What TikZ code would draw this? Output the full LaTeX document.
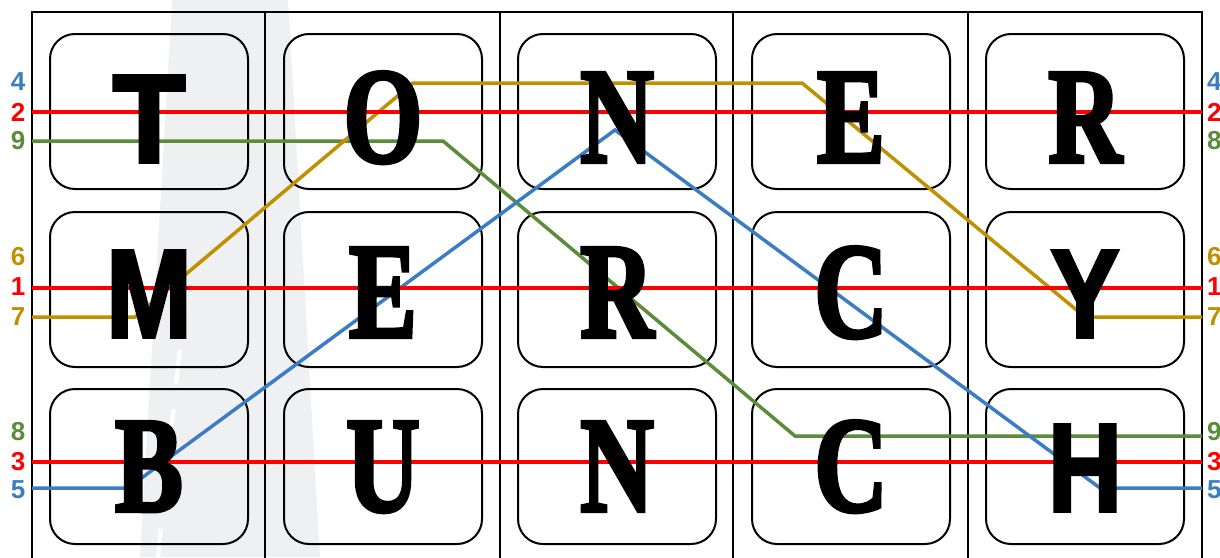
\documentclass[tikz,border=0pt]{standalone}
\usepackage{fontspec}
\newfontfamily\serifL{Liberation Serif}[FakeBold=3]
\newfontfamily\sansL{Liberation Sans}[FakeBold=3]
\newfontfamily\labfont{Liberation Sans}
\definecolor{cred}{HTML}{FF0000}
\definecolor{cblue}{HTML}{3B7DC4}
\definecolor{cgreen}{HTML}{5B8C3A}
\definecolor{cgold}{HTML}{C09000}
\definecolor{road}{HTML}{EFF0F2}
\tikzset{
  frameline/.style={line width=2pt, black},
  tile/.style={draw=black, line width=2pt, rounded corners=25pt, minimum width=198pt, minimum height=155pt, inner sep=0pt},
  route/.style={line width=3.5pt, line join=miter},
  sletter/.style={anchor=base, inner sep=0pt, text=black, font=\serifL\bfseries\fontsize{136}{136}\selectfont},
  gletter/.style={anchor=base, inner sep=0pt, text=black, font=\sansL\bfseries\fontsize{125}{125}\selectfont},
  lab/.style={inner sep=0pt, font=\labfont\bfseries\fontsize{26}{26}\selectfont},
}
\begin{document}
\begin{tikzpicture}[x=1pt,y=-1pt]
\useasboundingbox (0,0) rectangle (1220,557);
% faint road in the background
\fill[road] (172,0) -- (288,0) -- (320,557) -- (140,557) -- cycle;
\draw[white, line width=4pt, dash pattern=on 35pt off 25pt] (186,290) -- (158,557);
% frame
\draw[frameline] (32,560) -- (32,12) -- (1202,12) -- (1202,560);
\foreach \x in {265,500,733,968} \draw[frameline] (\x,12) -- (\x,560);
% tiles
\foreach \c/\x in {1/149,2/383,3/617,4/851,5/1085}
  \foreach \r/\y in {1/111.5,2/289.5,3/466.5}
    \node[tile] (b\r\c) at (\x,\y) {};
% route end points and corners
\coordinate (gL) at (32,141);  \coordinate (g1) at (443,141); \coordinate (g2) at (795,436); \coordinate (gR) at (1202,436);
\coordinate (oL) at (32,317);  \coordinate (o1) at (135,317); \coordinate (o2) at (413,83);  \coordinate (o3) at (802,83); \coordinate (o4) at (1085,317); \coordinate (oR) at (1202,317);
\coordinate (uL) at (32,488);  \coordinate (u1) at (128,488); \coordinate (u2) at (615,130); \coordinate (u3) at (1100,488); \coordinate (uR) at (1202,488);
\coordinate (r1L) at (32,112); \coordinate (r1R) at (1202,112);
\coordinate (r2L) at (32,288); \coordinate (r2R) at (1202,288);
\coordinate (r3L) at (32,462); \coordinate (r3R) at (1202,462);
% routes
\draw[route, cgreen] (gL) -- (g1) -- (g2) -- (gR);
\draw[route, cgold] (oL) -- (o1) -- (o2) -- (o3) -- (o4) -- (oR);
\draw[route, cblue] (uL) -- (u1) -- (u2) -- (u3) -- (uR);
\draw[route, cred] (r1L) -- (r1R);
\draw[route, cred] (r2L) -- (r2R);
\draw[route, cred] (r3L) -- (r3R);
% letters
\node[gletter] (l11) at (149,162) {\scalebox{0.95}[1]{T}};
\node[sletter] (l12) at (383,162) {\scalebox{0.75}[1]{O}};
\node[sletter] (l13) at (617,162) {\scalebox{0.75}[1]{N}};
\node[sletter] (l14) at (851,162) {\scalebox{0.75}[1]{E}};
\node[sletter] (l15) at (1085,162) {\scalebox{0.75}[1]{R}};
\node[gletter] (l21) at (149,337) {\scalebox{0.82}[1]{M}};
\node[sletter] (l22) at (383,337) {\scalebox{0.75}[1]{E}};
\node[sletter] (l23) at (617,337) {\scalebox{0.75}[1]{R}};
\node[sletter] (l24) at (851,337) {\scalebox{0.75}[1]{C}};
\node[gletter] (l25) at (1085,337) {\scalebox{0.82}[1]{Y}};
\node[sletter] (l31) at (149,511) {\scalebox{0.75}[1]{B}};
\node[sletter] (l32) at (383,511) {\scalebox{0.75}[1]{U}};
\node[sletter] (l33) at (617,511) {\scalebox{0.75}[1]{N}};
\node[sletter] (l34) at (851,511) {\scalebox{0.75}[1]{C}};
\node[gletter] (l35) at (1085,511) {\scalebox{0.82}[1]{H}};
% left labels
\node[lab, text=cblue]  (L4) at (18,82)  {4};
\node[lab, text=cred]   (L2) at (18,112) {2};
\node[lab, text=cgreen] (L9) at (18,141) {9};
\node[lab, text=cgold]  (L6) at (18,257) {6};
\node[lab, text=cred]   (L1) at (18,287) {1};
\node[lab, text=cgold]  (L7) at (18,317) {7};
\node[lab, text=cgreen] (L8) at (18,432) {8};
\node[lab, text=cred]   (L3) at (18,462) {3};
\node[lab, text=cblue]  (L5) at (18,490) {5};
% right labels
\node[lab, text=cblue,  anchor=west] (R4) at (1207,82)  {4};
\node[lab, text=cred,   anchor=west] (R2) at (1207,112) {2};
\node[lab, text=cgreen, anchor=west] (R8) at (1207,141) {8};
\node[lab, text=cgold,  anchor=west] (R6) at (1207,257) {6};
\node[lab, text=cred,   anchor=west] (R1) at (1207,287) {1};
\node[lab, text=cgold,  anchor=west] (R7) at (1207,317) {7};
\node[lab, text=cgreen, anchor=west] (R9) at (1207,432) {9};
\node[lab, text=cred,   anchor=west] (R3) at (1207,462) {3};
\node[lab, text=cblue,  anchor=west] (R5) at (1207,490) {5};
\end{tikzpicture}
\end{document}
